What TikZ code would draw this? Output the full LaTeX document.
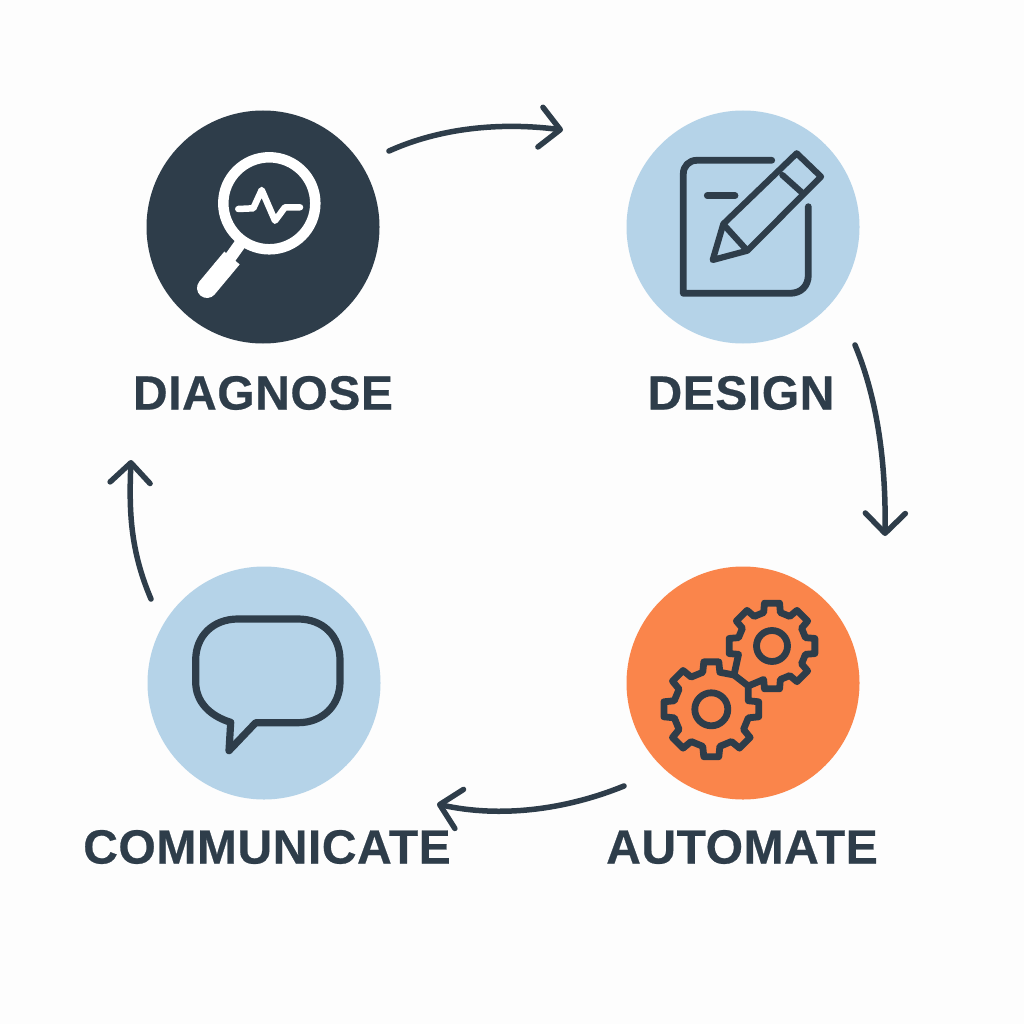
\documentclass[tikz,border=0pt]{standalone}
\usepackage{fontspec}
\setmainfont{Liberation Sans}[LetterSpace=1.2,FakeBold=0.5]
\usetikzlibrary{arrows.meta}
\definecolor{ink}{HTML}{2E3D4A}
\definecolor{sky}{HTML}{B5D3E8}
\definecolor{tang}{HTML}{FA854B}
\definecolor{paper}{HTML}{FDFDFD}
\tikzset{
  disc/.style={circle,minimum size=233pt,inner sep=0pt,draw=none},
  lab/.style={font=\fontsize{48}{52}\selectfont\bfseries,text=ink,inner sep=0pt},
  flow/.style={draw=ink,line width=5.5pt,line cap=round,line join=round,
    -{Straight Barb[length=20pt,width=40pt,round]}},
  icon/.style={draw=ink,line width=6.8pt,line cap=round,line join=round},
  wicon/.style={draw=white,line cap=round,line join=round},
}
\begin{document}
\begin{tikzpicture}[x=1pt,y=-1pt]
\useasboundingbox (0,0) rectangle (1024,1024);
\fill[paper] (0,0) rectangle (1024,1024);
% discs
\node[disc,fill=ink]  (diag) at (263,227) {};
\node[disc,fill=sky]  (desg) at (743,227) {};
\node[disc,fill=tang] (auto) at (743,683) {};
\node[disc,fill=sky]  (comm) at (264,683) {};
% labels
\node[lab] (ldiag) at (263,393) {DIAGNOSE};
\node[lab] (ldesg) at (741,393) {DESIGN};
\node[lab] (lauto) at (742,847) {AUTOMATE};
\node[lab] (lcomm) at (267,847) {COMMUNICATE};
% connector ends
\coordinate (a1) at (389,151); \coordinate (b1) at (563,130);
\coordinate (a2) at (855,345); \coordinate (b2) at (885,536);
\coordinate (a3) at (624,786); \coordinate (b3) at (437,804);
\coordinate (a4) at (151,599); \coordinate (b4) at (131,460);
\draw[flow] (a1) .. controls (440,128) and (500,122) .. (b1);
\draw[flow] (a2) .. controls (878,400) and (886,465) .. (b2);
\draw[flow] (a3) .. controls (565,810) and (500,818) .. (b3);
\draw[flow] (a4) .. controls (130,550) and (129,510) .. (b4);
% magnifier
\draw[wicon,line width=10.5pt] (269.3,203.3) circle (46);
\draw[wicon,line width=12pt,line cap=butt] (240,244) -- (230,258);
\draw[wicon,line width=20pt] (207,288) -- (222,270);
\draw[wicon,line width=20pt,line cap=butt] (222,270) -- (232,258);
\draw[wicon,line width=6.5pt] (238.3,209) -- (253.3,208.3) -- (261.7,190) -- (275,220.7) -- (285,207.3) -- (300,207.3);
% document and pencil
\draw[icon] (771.7,160.3) -- (697,160.3) .. controls (689,160.3) and (683.3,166) .. (683.3,174) -- (683.3,293.3) -- (790,293.3) .. controls (801,293.3) and (808.3,286) .. (808.3,275) -- (808.3,206.7);
\draw[icon] (707.3,195.7) -- (735,195.7);
\draw[icon,line width=6.2pt] (712.7,260) -- (723.3,224) -- (796.7,153.3) -- (821,176.7) -- (747.3,250.7) -- cycle;
\draw[icon,line width=6.2pt] (724,225) -- (746.7,250);
\draw[icon,line width=6.2pt] (782.3,175) -- (802.7,193.3);
% gears
\coordinate (sa) at (734,675);
\coordinate (sb) at (748.3,686);
\begin{scope}[shift={(711.3,709.3)}]
\draw[icon] (sa) foreach \t in {-90,-135,-180,-225,-270,-315,-360} {
   -- (\t+13:38) -- (\t+9:48) -- (\t-9:48) -- (\t-13:38) } -- (sb) -- cycle;
\draw[icon] (0,0) circle (16.5);
\end{scope}
\begin{scope}[shift={(772,646)}]
\draw[icon] (sb) foreach \t in {-270,-315,-360,-405,-450,-495,-540} {
   -- (\t+14:34.5) -- (\t+10:43.5) -- (\t-10:43.5) -- (\t-14:34.5) } -- (sa);
\draw[icon] (0,0) circle (15.5);
\end{scope}
% speech bubble
\draw[icon,line width=7.2pt] (255.7,722.7) -- (298,722.7) .. controls (323,722.7) and (340,705) .. (340,682) -- (340,660) .. controls (340,636) and (323,619) .. (298,619) -- (238,619) .. controls (213,619) and (195.7,636) .. (195.7,660) -- (195.7,682) .. controls (195.7,702) and (210,716) .. (230.7,722.3) -- (229,750.7) -- cycle;
\end{tikzpicture}
\end{document}
